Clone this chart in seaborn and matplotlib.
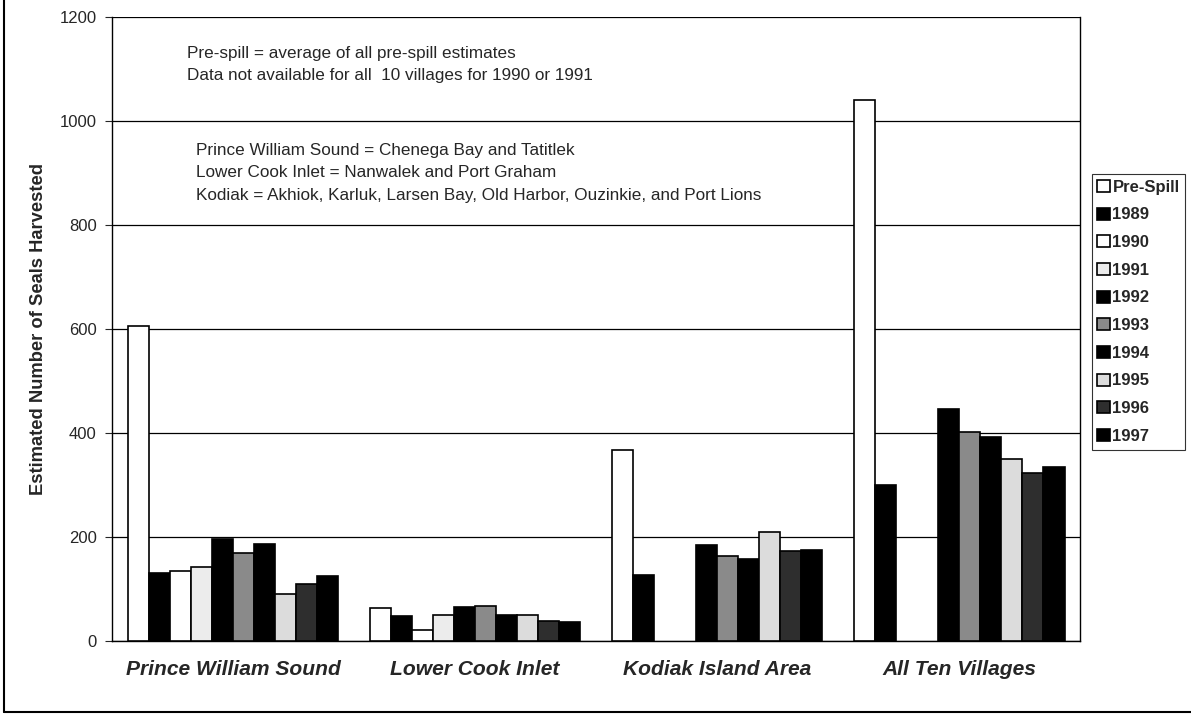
import matplotlib
matplotlib.use("Agg")
import matplotlib.pyplot as plt
import seaborn as sns
import numpy as np
import pandas as pd
from matplotlib.lines import Line2D

regions = ["Prince William Sound", "Lower Cook Inlet", "Kodiak Island Area", "All Ten Villages"]
years = ["Pre-Spill", "1989", "1990", "1991", "1992", "1993", "1994", "1995", "1996", "1997"]

# seals harvested per region, one list per year (nan = not available)
pre_spill = [605, 64, 368, 1040]
y1989 = [130, 47, 127, 299]
y1990 = [134, 20, np.nan, np.nan]
y1991 = [143, 49, np.nan, np.nan]
y1992 = [195, 65, 185, 447]
y1993 = [169, 67, 164, 401]
y1994 = [187, 49, 157, 392]
y1995 = [90, 49, 210, 350]
y1996 = [110, 38, 173, 322]
y1997 = [124, 37, 174, 335]

series = [pre_spill, y1989, y1990, y1991, y1992, y1993, y1994, y1995, y1996, y1997]
colors = ["white", "black", "white", "#ececec", "black", "#8a8a8a",
          "black", "#dcdcdc", "#2e2e2e", "black"]

rows = []
for yr, vals in zip(years, series):
    for reg, v in zip(regions, vals):
        rows.append({"region": reg, "year": yr, "value": v})
df = pd.DataFrame(rows)

sns.set_style("white")
plt.rcParams["font.family"] = ["Liberation Sans", "DejaVu Sans"]

fig = plt.figure(figsize=(11.91, 7.16), dpi=100)
ax = fig.add_axes([0.094, 0.105, 0.813, 0.871])

sns.barplot(data=df, x="region", y="value", hue="year", order=regions,
            hue_order=years, palette=colors, edgecolor="black", linewidth=1.2,
            width=0.87, gap=0, ax=ax, legend=False, zorder=3)

ax.set_ylim(0, 1200)
ax.set_yticks(range(0, 1201, 200))
ax.tick_params(axis="y", labelsize=12, length=5, direction="out", left=True, pad=6)
ax.tick_params(axis="x", length=0, pad=14)
for lab in ax.get_xticklabels():
    lab.set_fontweight("bold")
    lab.set_fontstyle("italic")
    lab.set_fontsize(15.1)
ax.set_xlabel("")
ax.set_ylabel("Estimated Number of Seals Harvested", fontsize=13.2,
              fontweight="bold", labelpad=9)
ax.grid(axis="y", color="black", linewidth=0.9, zorder=0)
ax.set_axisbelow(True)
for s in ["left", "right", "bottom"]:
    ax.spines[s].set_visible(True)
    ax.spines[s].set_color("black")
    ax.spines[s].set_linewidth(1)
ax.spines["top"].set_visible(False)

txt = dict(fontsize=12.3, transform=ax.transAxes, ha="left", va="center")
ax.text(0.077, 0.942, "Pre-spill = average of all pre-spill estimates", **txt)
ax.text(0.077, 0.906, "Data not available for all  10 villages for 1990 or 1991", **txt)
ax.text(0.087, 0.787, "Prince William Sound = Chenega Bay and Tatitlek", **txt)
ax.text(0.087, 0.751, "Lower Cook Inlet = Nanwalek and Port Graham", **txt)
ax.text(0.087, 0.714, "Kodiak = Akhiok, Karluk, Larsen Bay, Old Harbor, Ouzinkie, and Port Lions", **txt)

handles = [plt.Rectangle((0, 0), 1, 1, facecolor=c, edgecolor="black", linewidth=1.2)
           for c in colors]
leg = fig.legend(handles, years, loc="upper left", bbox_to_anchor=(0.9165, 0.757),
                 frameon=True, fancybox=False, edgecolor="black",
                 prop={"size": 12, "weight": "bold"}, handlelength=0.75,
                 handleheight=0.75, handletextpad=0.15, labelspacing=0.76,
                 borderpad=0.35, borderaxespad=0)
leg.get_frame().set_linewidth(0.8)

# outer frame around the figure
fig.add_artist(Line2D([0.003, 0.003], [0.006, 1.0], color="black", linewidth=1.5))
fig.add_artist(Line2D([0.003, 1.0], [0.006, 0.006], color="black", linewidth=1.5))

fig.savefig("out.png", dpi=100)
